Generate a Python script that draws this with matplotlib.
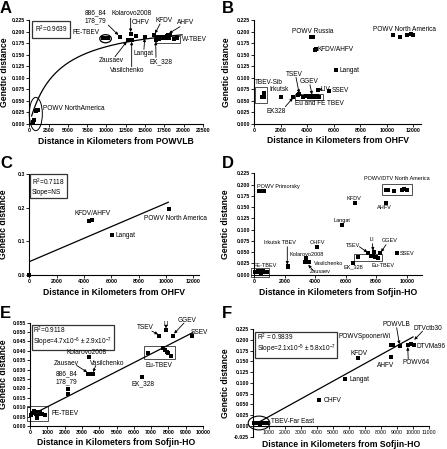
import matplotlib
matplotlib.use("Agg")
import numpy as np
import matplotlib.pyplot as plt
from matplotlib.patches import Ellipse, Rectangle

plt.rcParams['font.family'] = ['Liberation Sans', 'DejaVu Sans']
plt.rcParams['mathtext.fontset'] = 'custom'
plt.rcParams['mathtext.rm'] = 'Liberation Sans'

W, H = 447, 449

# ---------------- DATA ----------------
# A : distance from POWVLB
a_powv_x = [450, 600, 850, 1000, 1150]
a_powv_y = [0.004, 0.008, 0.029, 0.031, 0.030]
a_fe_x = [9600, 9750, 9900, 10050, 10150]
a_fe_y = [0.185, 0.185, 0.185, 0.185, 0.185]
a_mid_x = [11750, 13130, 12780, 13260, 13820, 14990, 16150, 16370, 18000, 18200]
a_mid_y = [0.188, 0.195, 0.182, 0.182, 0.191, 0.189, 0.192, 0.182, 0.192, 0.193]
a_wtbev_x = [16500, 16760, 16930, 17150, 17360, 17580, 17870, 18140, 18740, 19100]
a_wtbev_y = [0.1876, 0.183, 0.1876, 0.185, 0.189, 0.187, 0.190, 0.185, 0.1846, 0.186]
a_bmax, a_kd = 0.2284, 3643.0       # one-site hyperbola fit
a_fit_range = [300, 19800]

# B : distance from OHFV
b_x = [4255, 4455, 4560, 4680, 6190,
       10470, 11020, 11520, 11800, 11950,
       710, 580, 755, 2040, 2920, 3400, 4780, 5660]
b_y = [0.189, 0.189, 0.160, 0.1616, 0.1168,
       0.193, 0.189, 0.192, 0.195, 0.193,
       0.0677, 0.0578, 0.0578, 0.059, 0.0578, 0.064, 0.0736, 0.072]
b_eu_x = [3300, 3700, 3900, 4000, 4100, 4200, 4300, 4400, 4500, 4600, 4700, 4900]
b_eu_y = [0.062, 0.059, 0.060, 0.061, 0.058, 0.060, 0.059, 0.061, 0.060, 0.059, 0.060, 0.058]

# C : distance from OHFV (non TBEV)
c_x = [0, 4390, 4560, 6020, 10240]
c_y = [0.0, 0.161, 0.162, 0.119, 0.195]
c_intercept, c_slope = 0.0396, 1.735e-5
c_fit_range = [0, 10170]

# D/E/F : distance from Sofjin-HO
fe_x = [60, 150, 250, 320, 400, 430, 520, 600, 700, 850]
fe_y = [0.0060, 0.0070, 0.0080, 0.0066, 0.0076, 0.0042, 0.0062, 0.0072, 0.0065, 0.0060]
eu_x = [6800, 7670, 7800, 7900, 7990, 8130]
eu_y = [0.039, 0.0414, 0.0405, 0.0395, 0.039, 0.0373]
tbev_x = [7480, 7850, 8280, 9340, 3430, 3370, 3490, 3620, 2200, 2200, 6490]
tbev_y = [0.048, 0.051, 0.048, 0.048, 0.037, 0.0275, 0.0275, 0.0275, 0.0195, 0.017, 0.026]
prim_x = [350, 450, 550, 650]
prim_y = [0.186, 0.186, 0.186, 0.186]
other_x = [4150, 5760, 6590, 8620]      # OHFV, Langat, KFDV, AHFV
other_y = [0.0607, 0.1095, 0.158, 0.160]
na_x = [8620, 8750, 9170, 9670, 9850, 10040]
na_y = [0.188, 0.188, 0.186, 0.189, 0.191, 0.189]
e_intercept, e_slope = 0.0055, 4.7e-6
e_fit_range = [0, 9400]
f_intercept, f_slope = 0.0015, 2.05e-5
f_fit_range = [0, 10000]

TXT = 4.7
fig = plt.figure(figsize=(W / 100, H / 100), dpi=100)


def px_axes(left, top, right, bottom):
    return fig.add_axes([left / W, 1 - bottom / H, (right - left) / W, (bottom - top) / H])


def style(ax, xlim, ylim, xticks, yticks, yfmt, xlabel, ylx, xly, xticklabels=None):
    ax.set_xlim(xlim)
    ax.set_ylim(ylim)
    for s in ['top', 'right']:
        ax.spines[s].set_visible(False)
    for s in ['left', 'bottom']:
        ax.spines[s].set_linewidth(0.8)
    ax.set_xticks(xticks)
    ax.set_yticks(yticks)
    ax.set_yticklabels([yfmt % v for v in yticks])
    if xticklabels is not None:
        ax.set_xticklabels(xticklabels)
    ax.tick_params(length=2, width=0.6, pad=1, labelsize=3.8)
    for t in ax.get_xticklabels() + ax.get_yticklabels():
        t.set_fontweight('bold')
    ax.set_ylabel('Genetic distance', fontsize=6.2, fontweight='bold')
    ax.set_xlabel(xlabel, fontsize=6.2, fontweight='bold')
    ax.yaxis.set_label_coords(ylx, 0.5)
    ax.xaxis.set_label_coords(0.5, xly)


def pts(ax, x, y):
    ax.plot(x, y, 's', color='black', ms=2.2, mew=0, clip_on=False)


def arrow(ax, start, end):
    ax.annotate('', xy=end, xytext=start,
                arrowprops=dict(arrowstyle='-|>', lw=0.6, color='black',
                                mutation_scale=4, shrinkA=0, shrinkB=0))


def label(ax, x, y, s, ha='center', size=TXT):
    ax.text(x, y, s, ha=ha, va='center', fontsize=size, clip_on=False)


def rbox(ax, x, y, s, ls=1.15, pad=0.3):
    ax.text(x, y, s, transform=ax.transAxes, ha='left', va='top', fontsize=TXT,
            linespacing=ls,
            bbox=dict(boxstyle='square,pad=%s' % pad, fc='white', ec='#333333', lw=0.9))


def rect(ax, x0, x1, y0, y1):
    ax.add_patch(Rectangle((x0, y0), x1 - x0, y1 - y0, fill=False, lw=0.6,
                           ec='#333333', clip_on=False))


# ---------------- A ----------------
ax = px_axes(29.3, 20, 203, 124)
style(ax, (0, 22500), (0, 0.225), np.arange(0, 22501, 2500), np.arange(0, 0.2251, 0.025),
      '%.3f', 'Distance in Kilometers from POWVLB', -0.115, -0.122)
xs = np.linspace(a_fit_range[0], a_fit_range[1], 200)
ax.plot(xs, a_bmax * xs / (a_kd + xs), color='black', lw=0.9)
for xx, yy in [(a_powv_x, a_powv_y), (a_fe_x, a_fe_y), (a_mid_x, a_mid_y), (a_wtbev_x, a_wtbev_y)]:
    pts(ax, xx, yy)
ax.add_patch(Ellipse((845, 0.0216), 1690, 0.072, fill=False, lw=0.7, clip_on=False))
ax.add_patch(Ellipse((9880, 0.1845), 1500, 0.0175, fill=False, lw=0.9))
rect(ax, 16410, 19555, 0.1746, 0.1904)
rbox(ax, 0.03, 0.965, r'R$\mathregular{^2}$=0.9639', pad=0.4)
label(ax, 1735, 0.034, 'POWV NorthAmerica', ha='left')
label(ax, 7380, 0.1984, 'FE-TBEV')
label(ax, 8560, 0.233, '886_84\n178_79')
arrow(ax, (10230, 0.214), (11525, 0.1926))
label(ax, 13260, 0.2395, 'Kolarovo2008')
arrow(ax, (13130, 0.2287), (13130, 0.1990))
label(ax, 14465, 0.219, 'OHFV')
label(ax, 17440, 0.225, 'KFDV')
arrow(ax, (16930, 0.2164), (16280, 0.196))
label(ax, 20270, 0.219, 'AHFV')
arrow(ax, (19515, 0.2105), (18100, 0.1960))
label(ax, 19740, 0.1833, 'W-TBEV', ha='left')
label(ax, 10670, 0.1363, 'Zausaev')
arrow(ax, (11100, 0.1456), (12610, 0.178))
label(ax, 12720, 0.1153, 'Vasilchenko')
arrow(ax, (13260, 0.124), (13260, 0.178))
label(ax, 14815, 0.153, 'Langat')
arrow(ax, (14850, 0.1616), (14945, 0.1850))
label(ax, 17030, 0.1348, 'EK_328')
arrow(ax, (16410, 0.1443), (16370, 0.178))

# ---------------- B ----------------
ax = px_axes(254.3, 20, 421.3, 124)
style(ax, (0, 12600), (0, 0.225), np.arange(0, 12001, 2000), np.arange(0, 0.2251, 0.025),
      '%.3f', 'Distance in Kilometers from OHFV', -0.14, -0.119)
pts(ax, b_x, b_y)
pts(ax, b_eu_x, b_eu_y)
rect(ax, 53, 983, 0.0447, 0.0793)
rect(ax, 3100, 5160, 0.0519, 0.0643)
label(ax, 4390, 0.1997, 'POWV Russia')
label(ax, 4785, 0.1616, 'KFDV/AHFV', ha='left')
label(ax, 6415, 0.1153, 'Langat', ha='left')
label(ax, 8935, 0.2049, 'POWV North America', ha='left')
label(ax, 75, 0.0894, 'TBEV-Sib', ha='left')
label(ax, 1840, 0.0736, 'Irkutsk')
label(ax, 1640, 0.0281, 'EK328')
arrow(ax, (2340, 0.0374), (2900, 0.0560))
label(ax, 3035, 0.108, 'TSEV')
arrow(ax, (3147, 0.101), (3380, 0.0670))
label(ax, 4105, 0.0915, 'GGEV')
arrow(ax, (4200, 0.085), (4355, 0.0640))
label(ax, 5000, 0.0751, 'LIV', ha='left')
arrow(ax, (5000, 0.0745), (4850, 0.0738))
label(ax, 5864, 0.072, 'SSEV', ha='left')
label(ax, 3050, 0.0448, 'Eu and FE TBEV', ha='left')

# ---------------- C ----------------
ax = px_axes(29.3, 174, 198.8, 275)
style(ax, (0, 12400), (0, 0.3), np.arange(0, 12001, 2000), [0.0, 0.1, 0.2, 0.3],
      '%.1f', 'Distance in Kilometers from OHFV', -0.124, -0.129)
xs = np.array(c_fit_range, dtype=float)
ax.plot(xs, c_intercept + c_slope * xs, color='black', lw=0.9)
pts(ax, c_x, c_y)
rbox(ax, 0.015, 0.975, r'R$\mathregular{^2}$=0.7118' + '\nSlope=NS')
label(ax, 4610, 0.183, 'KFDV/AHFV')
label(ax, 6340, 0.118, 'Langat', ha='left')
label(ax, 8390, 0.168, 'POWV North America', ha='left')

# ---------------- D ----------------
DS = 4.0
ax = px_axes(254, 173.3, 422, 274.7)
style(ax, (0, 11000), (0, 0.225), np.arange(0, 10001, 2000), np.arange(0, 0.2251, 0.025),
      '%.3f', 'Distance in Kilometers from Sofjin-HO', -0.143, -0.131)
for xx, yy in [(fe_x, fe_y), (eu_x, eu_y), (tbev_x, tbev_y), (prim_x, prim_y),
               (other_x, other_y), (na_x, na_y)]:
    pts(ax, xx, yy)
rect(ax, 8360, 10350, 0.1768, 0.2012)
rect(ax, 6570, 8400, 0.0310, 0.0459)
rect(ax, -200, 1000, -0.0044, 0.0142)
label(ax, 216, 0.1968, 'POWV Primorsky', ha='left', size=DS)
label(ax, 9365, 0.2139, 'POWV/DTV North America', size=DS)
label(ax, 6550, 0.1695, 'KFDV', size=DS)
label(ax, 8533, 0.1487, 'AHFV', size=DS)
label(ax, 5745, 0.1198, 'Langat', size=DS)
label(ax, 4170, 0.071, 'OHFV', size=DS)
label(ax, 1700, 0.071, 'Irkutsk TBEV', size=DS)
arrow(ax, (2180, 0.0621), (2180, 0.0225))
label(ax, 3450, 0.0459, 'Kolarovo2008', size=DS)
label(ax, 3950, 0.0253, 'Vasilchenko', ha='left', size=DS)
label(ax, 4370, 0.0067, 'Zausaev', size=DS)
arrow(ax, (3880, 0.0089), (3555, 0.022))
label(ax, 6500, 0.0164, 'EK_328', size=DS)
label(ax, 8430, 0.0215, 'Eu-TBEV', size=DS)
label(ax, 6500, 0.0659, 'TSEV', size=DS)
arrow(ax, (6900, 0.062), (7420, 0.0500))
label(ax, 7710, 0.077, 'LI', size=DS)
arrow(ax, (7750, 0.0688), (7800, 0.0535))
label(ax, 8905, 0.0754, 'GGEV', size=DS)
arrow(ax, (8645, 0.0666), (8320, 0.0505))
label(ax, 9515, 0.0475, 'SSEV', ha='left', size=DS)
label(ax, 720, 0.0215, 'FE-TBEV', size=DS)

# ---------------- E ----------------
ax = px_axes(30, 322.7, 203, 426)
style(ax, (0, 10000), (0, 0.055), np.arange(0, 10001, 1000), np.arange(0, 0.05501, 0.005),
      '%.3f', 'Distance in Kilometers from Sofjin-HO', -0.125, -0.116)
xs = np.array(e_fit_range, dtype=float)
ax.plot(xs, e_intercept + e_slope * xs, color='black', lw=0.9)
for xx, yy in [(fe_x, fe_y), (eu_x, eu_y), (tbev_x, tbev_y)]:
    pts(ax, xx, yy)
rect(ax, 6590, 8380, 0.0355, 0.0428)
rect(ax, -200, 1050, 0.0025, 0.0105)
rbox(ax, 0.02, 0.985, r'R$\mathregular{^2}$=0.9118' + '\n'
     + r'Slope=4.7x10$\mathregular{^{-6}}$ $\mathregular{\pm}$ 2.9x10$\mathregular{^{-7}}$',
     ls=1.0, pad=0.25)
label(ax, 6650, 0.0523, 'TSEV')
arrow(ax, (7050, 0.0505), (7400, 0.0488))
label(ax, 7850, 0.0540, 'LI')
arrow(ax, (7860, 0.0532), (7860, 0.0520))
label(ax, 9060, 0.0564, 'GGEV')
arrow(ax, (8900, 0.0548), (8330, 0.0492))
label(ax, 9800, 0.0497, 'SSEV')
label(ax, 3295, 0.0391, 'Kolarovo2008')
label(ax, 2120, 0.0334, 'Zausaev')
arrow(ax, (2700, 0.0322), (3300, 0.0287))
label(ax, 4450, 0.0334, 'Vasilchenko')
arrow(ax, (3800, 0.0322), (3650, 0.0287))
label(ax, 2120, 0.0255, '886_84\n178_79')
label(ax, 6520, 0.0227, 'EK_328')
label(ax, 7445, 0.0321, 'Eu-TBEV')
label(ax, 1255, 0.0064, 'FE-TBEV', ha='left')

# ---------------- F ----------------
ax = px_axes(253, 329, 429, 436.8)
fx = np.arange(0, 11001, 1000)
style(ax, (0, 11000), (-0.025, 0.225), fx, np.arange(-0.025, 0.2251, 0.025),
      '%.3f', 'Distance in Kilometers from Sofjin-HO', -0.131, -0.027,
      xticklabels=[''] + [str(v) for v in fx[1:]])
ax.spines['bottom'].set_position(('data', 0))
xs = np.array(f_fit_range, dtype=float)
ax.plot(xs, f_intercept + f_slope * xs, color='black', lw=0.9)
for xx, yy in [(fe_x, fe_y), (other_x, other_y), (na_x, na_y)]:
    pts(ax, xx, yy)
ax.add_patch(Ellipse((375, 0.007), 1350, 0.032, fill=False, lw=0.8, clip_on=False))
rbox(ax, 0.02, 0.975, r'R$\mathregular{^2}$ = 0.9839' + '\n'
     + r'Slope=2.1x10$\mathregular{^{-5}}$ $\mathregular{\pm}$ 5.8x10$\mathregular{^{-7}}$',
     ls=1.0, pad=0.25)
label(ax, 8940, 0.2365, 'POWVLB')
arrow(ax, (8980, 0.2280), (9150, 0.1900))
label(ax, 10940, 0.2270, 'DTVctb30')
arrow(ax, (10600, 0.2200), (10080, 0.2000))
label(ax, 6940, 0.2070, 'POWVSpoonerWi')
label(ax, 10200, 0.1850, 'DTVMa96', ha='left')
label(ax, 10170, 0.1470, 'POWV64')
arrow(ax, (9700, 0.1560), (9670, 0.1830))
label(ax, 6640, 0.1680, 'KFDV')
label(ax, 8310, 0.1415, 'AHFV')
label(ax, 6000, 0.1070, 'Langat', ha='left')
label(ax, 4400, 0.0590, 'OHFV', ha='left')
label(ax, 1100, 0.0100, 'TBEV-Far East', ha='left')

# panel letters
for s, px, py in [('A', 0, 1), ('B', 222, 1), ('C', 0, 156), ('D', 222, 156),
                  ('E', 0, 306), ('F', 222, 306)]:
    fig.text(px / W, 1 - py / H, s, fontsize=12, fontweight='bold', ha='left', va='top')

fig.savefig('out.png', dpi=100)
